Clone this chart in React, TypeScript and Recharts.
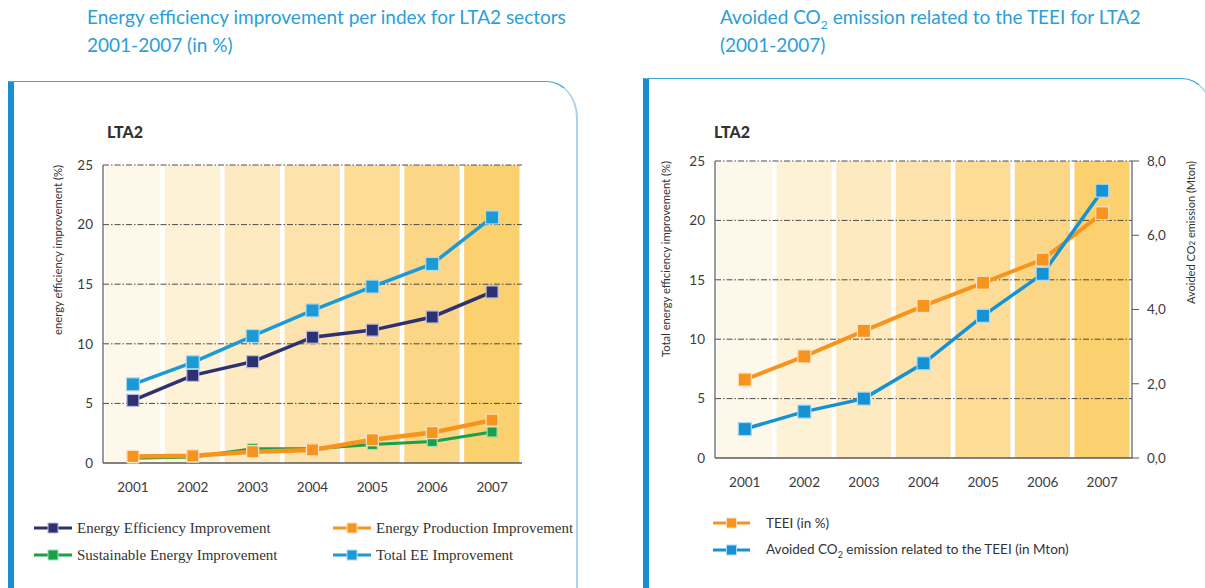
import React from "react";
import {
  ComposedChart,
  Line,
  XAxis,
  YAxis,
  ReferenceArea,
  ReferenceLine,
} from "recharts";

// values, 2001-2007
const YEARS = ["2001", "2002", "2003", "2004", "2005", "2006", "2007"];
const EE_IMPROVEMENT = [5.25, 7.35, 8.5, 10.55, 11.15, 12.25, 14.35];
const PRODUCTION_IMPROVEMENT = [0.55, 0.6, 0.95, 1.1, 1.95, 2.55, 3.6];
const SUSTAINABLE_IMPROVEMENT = [0.4, 0.5, 1.2, 1.2, 1.55, 1.8, 2.6];
const TOTAL_EE_IMPROVEMENT = [6.6, 8.45, 10.65, 12.8, 14.8, 16.7, 20.6];
const TEEI = [6.6, 8.55, 10.7, 12.8, 14.75, 16.7, 20.6];
const AVOIDED_CO2 = [0.78, 1.25, 1.6, 2.55, 3.83, 4.96, 7.2];

const PCT_TICKS = [0, 5, 10, 15, 20, 25];
const GRID_LEVELS = [5, 10, 15, 20, 25];
const CO2_TICKS = [0, 2, 4, 6, 8];

// one background column per year, getting warmer towards 2007
const BAND_FILLS = ["#fdf8ea", "#fdf1d6", "#fdeac0", "#fde3ab", "#fddc98", "#fcd687", "#fbd06e"];

const SANS = "Lato, 'Open Sans', sans-serif";
const SERIF = "'Liberation Serif', 'Times New Roman', serif";
const TITLE_BLUE = "#2c9ed8";
const AXIS_GREY = "#5a5a5a";

const leftData = YEARS.map((year, i) => ({
  year,
  ee: EE_IMPROVEMENT[i],
  production: PRODUCTION_IMPROVEMENT[i],
  sustainable: SUSTAINABLE_IMPROVEMENT[i],
  total: TOTAL_EE_IMPROVEMENT[i],
}));

const rightData = YEARS.map((year, i) => ({
  year,
  teei: TEEI[i],
  co2: AVOIDED_CO2[i],
}));

type Series = { key: string; name: React.ReactNode; color: string; edge: string; width: number; dot: number };

const LEFT_SERIES: Series[] = [
  { key: "sustainable", name: "Sustainable Energy Improvement", color: "#1a9f4b", edge: "#9fe0b4", width: 3, dot: 10 },
  { key: "production", name: "Energy Production Improvement", color: "#f7941d", edge: "#fde1bd", width: 4.5, dot: 12 },
  { key: "ee", name: "Energy Efficiency Improvement", color: "#2e3171", edge: "#b9bbdc", width: 3.5, dot: 12 },
  { key: "total", name: "Total EE Improvement", color: "#1b9ad6", edge: "#a9dbf3", width: 3.5, dot: 13 },
];

const RIGHT_SERIES: Series[] = [
  { key: "teei", name: "TEEI (in %)", color: "#f7941d", edge: "#fde1bd", width: 4, dot: 13 },
  {
    key: "co2",
    name: (
      <>
        Avoided CO<sub style={{ fontSize: 9 }}>2</sub> emission related to the TEEI (in Mton)
      </>
    ),
    color: "#1592d4",
    edge: "#a9dbf3",
    width: 3.5,
    dot: 13,
  },
];

const squareDot = (s: Series) => (p: any) => (
  <rect
    key={`${s.key}-${p.index}`}
    x={p.cx - s.dot / 2}
    y={p.cy - s.dot / 2}
    width={s.dot}
    height={s.dot}
    fill={s.color}
    stroke={s.edge}
    strokeWidth={1.2}
  />
);

// year column, a few pixels narrower than its band to leave the white gaps
const BandShape = (p: any) => (
  <rect x={p.x + 2} y={p.y} width={Math.max(p.width - 4.5, 0)} height={p.height} fill={p.fill} />
);

// rotated axis caption hung from the top of the plot
function AxisTitle(props: any) {
  const { viewBox, dx, length, children } = props;
  if (!viewBox) return null;
  const x = viewBox.x + dx;
  const y = viewBox.y;
  return (
    <text
      x={x}
      y={y}
      transform={`rotate(-90 ${x} ${y})`}
      textAnchor="end"
      dominantBaseline="central"
      fontSize={11}
      fontFamily={SANS}
      fill="#333"
      textLength={length}
      lengthAdjust="spacingAndGlyphs"
    >
      {children}
    </text>
  );
}

const tickStyle = { fill: "#3c3c3c", fontSize: 13.5, fontFamily: SANS };

function Legend({ series, cols, left, top, rowGap, colGap, iconW, textGap, font }: any) {
  return (
    <div style={{ position: "absolute", left, top }}>
      {series.map((s: Series, i: number) => (
        <div
          key={s.key}
          style={{
            position: "absolute",
            left: (i % cols) * colGap,
            top: Math.floor(i / cols) * rowGap,
            display: "flex",
            alignItems: "center",
            height: 20,
            whiteSpace: "nowrap",
          }}
        >
          <svg width={iconW} height={14} style={{ marginRight: textGap }}>
            <line x1={0} y1={7} x2={iconW} y2={7} stroke={s.color} strokeWidth={3} />
            <rect x={iconW / 2 - 5} y={2} width={10} height={10} fill={s.color} stroke={s.edge} strokeWidth={1} />
          </svg>
          <span style={font}>{s.name}</span>
        </div>
      ))}
    </div>
  );
}

function Panel({ left, top }: { left: number; top: number }) {
  return (
    <div
      style={{
        position: "absolute",
        left,
        top,
        width: 570,
        height: 600,
        borderLeft: "6.5px solid #1a8fd0",
        borderTop: "1.5px solid #3aa6dc",
        borderRight: "2px solid #a9d2ef",
        borderTopRightRadius: "31px 37px",
        boxSizing: "border-box",
      }}
    />
  );
}

const titleStyle: React.CSSProperties = {
  position: "absolute",
  top: 3,
  color: TITLE_BLUE,
  fontFamily: SANS,
  fontSize: 19,
  lineHeight: "28px",
  whiteSpace: "nowrap",
};

export default function App() {
  // left: the four indices for LTA2, right: TEEI against avoided CO2
  const leftOrder = [LEFT_SERIES[2], LEFT_SERIES[1], LEFT_SERIES[0], LEFT_SERIES[3]];
  return (
    <div
      style={{
        position: "absolute",
        left: 0,
        top: 0,
        width: 1205,
        height: 588,
        overflow: "hidden",
        background: "#fff",
      }}
    >
      <div style={{ ...titleStyle, left: 87 }}>
        Energy efficiency improvement per index for LTA2 sectors
        <br />
        2001-2007 (in %)
      </div>
      <div style={{ ...titleStyle, left: 720 }}>
        Avoided CO<sub style={{ fontSize: 12, lineHeight: 0 }}>2</sub> emission related to the TEEI for LTA2
        <br />
        (2001-2007)
      </div>

      <Panel left={8} top={81} />
      <Panel left={643} top={78} />

      <div style={{ position: "absolute", left: 107, top: 122, fontFamily: SANS, fontWeight: 900, fontSize: 16, color: "#333" }}>LTA2</div>
      <div style={{ position: "absolute", left: 714, top: 122, fontFamily: SANS, fontWeight: 900, fontSize: 16, color: "#333" }}>LTA2</div>

      <div style={{ position: "absolute", left: 0, top: 140 }}>
        <ComposedChart width={532} height={368} data={leftData} margin={{ top: 25, right: 10, bottom: 5, left: 43 }}>
          {YEARS.map((y, i) => (
            <ReferenceArea key={y} x1={y} x2={y} fill={BAND_FILLS[i]} fillOpacity={1} shape={BandShape} />
          ))}
          {GRID_LEVELS.map((v) => (
            <ReferenceLine key={v} y={v} stroke="#3a3a3a" strokeWidth={0.9} strokeDasharray="6 2 1.5 2" />
          ))}
          <XAxis
            dataKey="year"
            scale="band"
            interval={0}
            height={40}
            tickSize={0}
            tickMargin={19}
            tick={tickStyle}
            axisLine={{ stroke: AXIS_GREY, strokeWidth: 1.5 }}
          />
          <YAxis
            domain={[0, 25]}
            ticks={PCT_TICKS}
            width={60}
            tickSize={0}
            tickMargin={10}
            tick={tickStyle}
            axisLine={{ stroke: AXIS_GREY, strokeWidth: 1.2 }}
            label={
              <AxisTitle dx={14} length={170}>
                energy efficiency improvement (%)
              </AxisTitle>
            }
          />
          {LEFT_SERIES.map((s) => (
            <Line
              key={s.key}
              dataKey={s.key}
              stroke={s.color}
              strokeWidth={s.width}
              dot={squareDot(s)}
              activeDot={false}
              isAnimationActive={false}
            />
          ))}
        </ComposedChart>
      </div>

      <div style={{ position: "absolute", left: 600, top: 140 }}>
        <ComposedChart width={605} height={363} data={rightData} margin={{ top: 21, right: 13, bottom: 5, left: 55 }}>
          {YEARS.map((y, i) => (
            <ReferenceArea key={y} yAxisId="pct" x1={y} x2={y} fill={BAND_FILLS[i]} fillOpacity={1} shape={BandShape} />
          ))}
          {GRID_LEVELS.map((v) => (
            <ReferenceLine key={v} yAxisId="pct" y={v} stroke="#3a3a3a" strokeWidth={0.9} strokeDasharray="6 2 1.5 2" />
          ))}
          <XAxis
            dataKey="year"
            scale="band"
            interval={0}
            height={40}
            tickSize={0}
            tickMargin={19}
            tick={tickStyle}
            axisLine={{ stroke: AXIS_GREY, strokeWidth: 1.5 }}
          />
          <YAxis
            yAxisId="pct"
            domain={[0, 25]}
            ticks={PCT_TICKS}
            width={60}
            tickSize={0}
            tickMargin={10}
            tick={tickStyle}
            axisLine={{ stroke: AXIS_GREY, strokeWidth: 1.2 }}
            label={
              <AxisTitle dx={10} length={196}>
                Total energy efficiency improvement (%)
              </AxisTitle>
            }
          />
          <YAxis
            yAxisId="co2"
            orientation="right"
            domain={[0, 8]}
            ticks={CO2_TICKS}
            width={60}
            tickSize={7}
            tickMargin={8}
            tickLine={{ stroke: AXIS_GREY }}
            tick={tickStyle}
            tickFormatter={(v: number) => v.toFixed(1).replace(".", ",")}
            axisLine={{ stroke: AXIS_GREY, strokeWidth: 1.2 }}
            label={
              <AxisTitle dx={58} length={143}>
                Avoided CO
                <tspan dy={2} fontSize={8}>2</tspan>
                <tspan dy={-2}> emission (Mton)</tspan>
              </AxisTitle>
            }
          />
          {RIGHT_SERIES.map((s) => (
            <Line
              key={s.key}
              yAxisId={s.key === "co2" ? "co2" : "pct"}
              dataKey={s.key}
              stroke={s.color}
              strokeWidth={s.width}
              dot={squareDot(s)}
              activeDot={false}
              isAnimationActive={false}
            />
          ))}
        </ComposedChart>
      </div>

      <Legend
        series={leftOrder}
        cols={2}
        left={34}
        top={518}
        rowGap={27}
        colGap={299}
        iconW={38}
        textGap={5}
        font={{ fontFamily: SERIF, fontSize: 15, color: "#333" }}
      />
      <Legend
        series={RIGHT_SERIES}
        cols={1}
        left={713}
        top={513}
        rowGap={27}
        colGap={0}
        iconW={37}
        textGap={16}
        font={{ fontFamily: SANS, fontSize: 13.5, color: "#333" }}
      />
    </div>
  );
}
